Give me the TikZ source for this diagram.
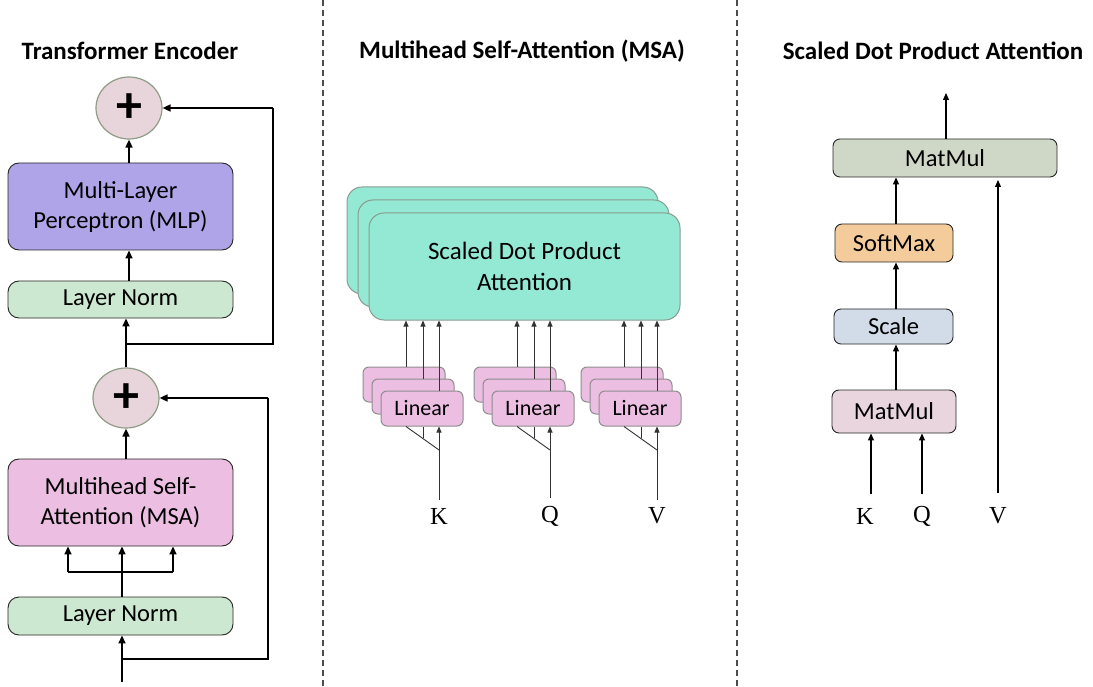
\documentclass[tikz,border=0pt]{standalone}
\usepackage{fontspec}
\setmainfont{Carlito}
\newfontfamily\kqvfont{Liberation Serif}
\usetikzlibrary{arrows.meta,shapes.geometric}

\definecolor{mlpfill}{HTML}{B0A4E8}
\definecolor{msafill}{HTML}{EBBEE2}
\definecolor{normfill}{HTML}{CDE8D1}
\definecolor{plusfill}{HTML}{E8D5DC}
\definecolor{plusdraw}{HTML}{8E9C86}
\definecolor{sdpafill}{HTML}{93E9D4}
\definecolor{sdpadraw}{HTML}{8A9C8E}
\definecolor{lindraw}{HTML}{8E8E8E}
\definecolor{mmtopfill}{HTML}{CFD8C6}
\definecolor{softfill}{HTML}{F4CB9B}
\definecolor{scalefill}{HTML}{D1DCE8}
\definecolor{mmlowfill}{HTML}{E8D5DE}

\tikzset{
  lbl/.style={font=\fontsize{24.5}{30}\selectfont},
  ttl/.style={font=\fontsize{25}{28}\selectfont\bfseries},
  box/.style={draw=black!85, line width=0.9pt, rounded corners=11pt, inner sep=0pt,
    align=center, lbl},
  smallbox/.style={draw=black!85, line width=0.9pt, rounded corners=7pt, inner sep=0pt,
    align=center, lbl},
  addnode/.style={ellipse, draw=plusdraw, line width=1.2pt, fill=plusfill, inner sep=0pt,
    minimum width=66pt, minimum height=62pt, font=\fontsize{52}{52}\selectfont\bfseries},
  sdpa/.style={draw=sdpadraw, line width=1pt, fill=sdpafill, rounded corners=15pt,
    minimum width=311pt, minimum height=107pt, inner sep=0pt, align=center,
    font=\fontsize{25}{31}\selectfont},
  linbox/.style={draw=lindraw, line width=1pt, fill=msafill, rounded corners=6pt,
    minimum width=82pt, minimum height=35pt, inner sep=0pt,
    font=\fontsize{22}{24}\selectfont},
  letter/.style={font=\kqvfont\fontsize{24.5}{24.5}\selectfont, inner sep=0pt},
  flow/.style={line width=1.6pt, -{Triangle[length=8pt,width=7pt]}},
  thin/.style={line width=0.9pt, draw=black!80},
  thinflow/.style={thin, -{Triangle[length=6pt,width=5pt]}},
  midflow/.style={line width=1.2pt, -{Triangle[length=7pt,width=6pt]}},
  sep/.style={draw=black!70, line width=1.2pt, dash pattern=on 6pt off 4pt}
}

\begin{document}
\begin{tikzpicture}[x=1pt,y=-1pt]
\useasboundingbox (0,0) rectangle (1093,687);

% panel separators
\draw[sep] (323,0) -- (323,687);
\draw[sep] (737,0) -- (737,687);

% ---------------- Transformer encoder ----------------
\node[ttl] (t1) at (130,51) {Transformer Encoder};

\node[addnode] (add1) at (129,108) {+};
\node[box, fill=mlpfill, minimum width=225pt, minimum height=87pt] (mlp) at (120.5,206.5)
  {Multi-Layer\\Perceptron (MLP)};
\node[box, fill=normfill, minimum width=225pt, minimum height=37pt] (norm2) at (120.5,299.5) {Layer Norm};
\node[addnode, minimum height=60pt] (add0) at (126,398) {+};
\node[box, fill=msafill, minimum width=225pt, minimum height=87pt] (msa) at (120.5,502.5)
  {Multihead Self-\\Attention (MSA)};
\node[box, fill=normfill, minimum width=225pt, minimum height=38pt] (norm1) at (120.5,616) {Layer Norm};

\coordinate (in) at (122,682);
\coordinate (split0) at (122,659);
\coordinate (skip0) at (268,659);
\coordinate (skip0top) at (268,398);
\coordinate (split1) at (126,344);
\coordinate (skip1) at (273,344);
\coordinate (skip1top) at (273,108);
\coordinate (fanL) at (68,572);
\coordinate (fanR) at (173,572);

\draw[flow] (in) -- (in |- norm1.south);
\draw[line width=1.6pt] (split0) -- (skip0) -- (skip0top);
\draw[flow] (skip0top) -- (add0.east);
\draw[flow] (norm1.north -| in) -- (msa.south -| in);
\draw[flow] (fanL) -- (fanL |- msa.south);
\draw[flow] (fanR) -- (fanR |- msa.south);
\draw[line width=1.6pt] (fanL) -- (fanR);
\draw[flow] (msa.north -| add0) -- (add0.south);
\draw[flow] (add0.north) -- (norm2.south -| add0);
\draw[line width=1.6pt] (split1) -- (skip1) -- (skip1top);
\draw[flow] (skip1top) -- (add1.east);
\draw[flow] (norm2.north -| add1) -- (mlp.south -| add1);
\draw[flow] (mlp.north -| add1) -- (add1.south);

% ---------------- Multihead self-attention ----------------
\node[ttl] (t2) at (522,51) {Multihead Self-Attention (MSA)};

\node[sdpa] (sdpa3) at (502.5,240.5) {};
\node[sdpa] (sdpa2) at (513.5,253.5) {};
\node[sdpa] (sdpa1) at (524.5,266.5) {Scaled Dot Product\\Attention};

\foreach \g/\dx/\name in {k/0/K, q/111/Q, v/218/V} {
  \node[linbox] (\g3) at (404+\dx,384.5) {};
  \node[linbox] (\g2) at (413+\dx,396.5) {};
  \node[linbox] (\g1) at (422+\dx,408.5) {Linear};
  \node[letter] (\g lab) at (439+\dx,516) {\name};
  \coordinate (\g fan) at (439+\dx,450);
  \coordinate (\g mid) at (423+\dx,437.5);
  % projections up to the attention heads
  \draw[thinflow] ([xshift=2pt]\g3.north) -- ([xshift=2pt]\g3.north |- sdpa1.south);
  \draw[thinflow] ([xshift=10pt]\g2.north) -- ([xshift=10pt]\g2.north |- sdpa1.south);
  \draw[thinflow] ([xshift=17pt]\g1.north) -- ([xshift=17pt]\g1.north |- sdpa1.south);
  % input fanned out to the three projections
  \draw[thinflow] ([yshift=8pt]\g lab.north) -- ([xshift=17pt]\g1.south);
  \draw[thin] ([xshift=-16pt]\g1.south) -- (\g fan);
  \draw[thin] ([xshift=1pt]\g1.south) -- (\g mid);
}

% ---------------- Scaled dot product attention ----------------
\node[ttl] (t3) at (933,51) {Scaled Dot Product Attention};

\node[smallbox, fill=mmtopfill, minimum width=224pt, minimum height=38pt] (mm2) at (945,158) {MatMul};
\node[smallbox, fill=softfill, minimum width=118pt, minimum height=38pt] (soft) at (894,243) {SoftMax};
\node[smallbox, fill=scalefill, minimum width=119pt, minimum height=35pt] (scale) at (893.5,326.5) {Scale};
\node[smallbox, fill=mmlowfill, minimum width=124pt, minimum height=43pt] (mm1) at (894,411.5) {MatMul};

\node[letter] (sk) at (865,516) {K};
\node[letter] (sq) at (922,516) {Q};
\node[letter] (sv) at (998,516) {V};
\coordinate (out) at (946,93);
\coordinate (kin) at (871,494);
\coordinate (qin) at (922,494);
\coordinate (vin) at (998,493);
\coordinate (vtop) at (998,180);

\draw[midflow] (mm2.north -| out) -- (out);
\draw[midflow] (kin) -- (kin |- mm1.south);
\draw[midflow] (qin) -- (qin |- mm1.south);
\draw[midflow] (vin) -- (vtop);
\draw[midflow] (mm1.north -| 896,0) -- (scale.south -| 896,0);
\draw[midflow] (scale.north -| 896,0) -- (soft.south -| 896,0);
\draw[midflow] (soft.north -| 896,0) -- (mm2.south -| 896,0);
\end{tikzpicture}
\end{document}
